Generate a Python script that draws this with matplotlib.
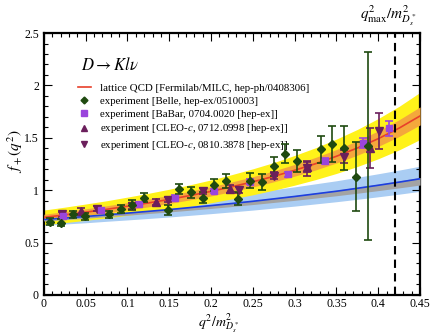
import matplotlib
matplotlib.use("Agg")
import matplotlib.pyplot as plt
from matplotlib.lines import Line2D
from matplotlib.ticker import MultipleLocator

plt.rcParams['font.family'] = ['Liberation Serif', 'DejaVu Serif']
plt.rcParams['mathtext.fontset'] = 'stix'

# lattice QCD curves
band_x = [0, 0.025, 0.05, 0.075, 0.1, 0.125, 0.15, 0.175, 0.2, 0.225,
          0.25, 0.275, 0.3, 0.325, 0.35, 0.375, 0.4, 0.425, 0.45]
lat_c = [0.740, 0.764, 0.790, 0.817, 0.847, 0.878, 0.912, 0.949, 0.989, 1.033,
         1.080, 1.132, 1.190, 1.253, 1.324, 1.403, 1.492, 1.593, 1.709]
lat_yel = [0.070, 0.074, 0.078, 0.082, 0.087, 0.092, 0.097, 0.103, 0.109, 0.116,
           0.124, 0.132, 0.142, 0.152, 0.164, 0.177, 0.192, 0.208, 0.225]
lat_org = [0.030, 0.031, 0.032, 0.034, 0.035, 0.037, 0.039, 0.041, 0.044, 0.046,
           0.049, 0.052, 0.056, 0.060, 0.064, 0.069, 0.074, 0.080, 0.086]
blue_c = [0.720, 0.734, 0.749, 0.765, 0.781, 0.798, 0.815, 0.834, 0.853, 0.873,
          0.894, 0.917, 0.940, 0.965, 0.990, 1.018, 1.047, 1.077, 1.109]
blue_w = [0.055, 0.057, 0.060, 0.062, 0.065, 0.068, 0.071, 0.074, 0.077, 0.080,
          0.084, 0.088, 0.092, 0.096, 0.100, 0.105, 0.110, 0.115, 0.120]
grey_lo = [0.015, 0.016, 0.017, 0.018, 0.020, 0.021, 0.023, 0.025, 0.027, 0.029,
           0.031, 0.034, 0.037, 0.040, 0.043, 0.047, 0.051, 0.055, 0.060]
grey_hi = [0.005, 0.005, 0.005, 0.006, 0.006, 0.006, 0.007, 0.007, 0.008, 0.008,
           0.008, 0.009, 0.009, 0.010, 0.010, 0.011, 0.011, 0.012, 0.012]

# experiments
belle_x = [0.007, 0.021, 0.035, 0.049, 0.078, 0.092, 0.106, 0.120, 0.148, 0.162,
           0.176, 0.190, 0.204, 0.218, 0.232, 0.247, 0.261, 0.275, 0.289, 0.303,
           0.331, 0.345, 0.359, 0.373, 0.388]
belle_y = [0.70, 0.69, 0.77, 0.75, 0.77, 0.82, 0.86, 0.93, 0.81, 1.01,
           0.98, 0.93, 1.05, 1.09, 0.92, 1.09, 1.08, 1.23, 1.35, 1.28,
           1.39, 1.44, 1.40, 1.13, 1.42]
belle_e = [0.035, 0.035, 0.035, 0.035, 0.035, 0.04, 0.045, 0.045, 0.045, 0.05,
           0.05, 0.05, 0.06, 0.065, 0.06, 0.07, 0.075, 0.09, 0.09, 0.105,
           0.13, 0.17, 0.21, 0.33, 0.90]

babar_x = [0.023, 0.068, 0.114, 0.157, 0.203, 0.247, 0.292, 0.336, 0.382, 0.413]
babar_y = [0.75, 0.81, 0.87, 0.93, 0.99, 1.08, 1.15, 1.28, 1.45, 1.59]
babar_e = [0.02, 0.02, 0.02, 0.02, 0.02, 0.025, 0.025, 0.03, 0.045, 0.07]

cleo1_x = [0.045, 0.134, 0.223, 0.315, 0.390]
cleo1_y = [0.80, 0.89, 1.01, 1.22, 1.40]
cleo1_e = [0.03, 0.03, 0.035, 0.05, 0.19]

cleo2_x = [0.022, 0.064, 0.106, 0.148, 0.190, 0.233, 0.275, 0.315, 0.359, 0.401]
cleo2_y = [0.77, 0.825, 0.85, 0.91, 0.99, 1.005, 1.14, 1.21, 1.32, 1.565]
cleo2_e = [0.025, 0.025, 0.025, 0.025, 0.03, 0.03, 0.035, 0.07, 0.065, 0.17]

qmax = 0.4205

fig = plt.figure(figsize=(4.3, 3.34), dpi=100)
ax = fig.add_axes([0.102, 0.117, 0.875, 0.784])

lo = [c - w for c, w in zip(blue_c, blue_w)]
hi = [c + w for c, w in zip(blue_c, blue_w)]
ax.fill_between(band_x, lo, hi, color='#aacdf3', lw=0, zorder=1)
lo = [c - w for c, w in zip(lat_c, lat_yel)]
hi = [c + w for c, w in zip(lat_c, lat_yel)]
ax.fill_between(band_x, lo, hi, color='#fff21a', lw=0, zorder=2)
lo = [c - w for c, w in zip(lat_c, lat_org)]
hi = [c + w for c, w in zip(lat_c, lat_org)]
ax.fill_between(band_x, lo, hi, color='#f4a83c', lw=0, zorder=3)
lo = [c - w for c, w in zip(blue_c, grey_lo)]
hi = [c + w for c, w in zip(blue_c, grey_hi)]
ax.fill_between(band_x, lo, hi, color='#a3a3a3', lw=0, zorder=3)
ax.plot(band_x, blue_c, color='#1c3fe0', lw=1.2, zorder=4)
ax.plot(band_x, lat_c, color='#e8402a', lw=1.2, zorder=4)

ax.axvline(qmax, color='black', ls=(0, (4, 2.5)), lw=1.5, zorder=5)

green = '#1f4a10'
purple = '#9a45dc'
plum = '#6b1f5c'
eb = dict(ls='none', capsize=3.2, capthick=1.2, elinewidth=1.2, zorder=6)
ax.errorbar(cleo2_x, cleo2_y, yerr=cleo2_e, fmt='v', color=plum, ms=5.5, **eb)
ax.errorbar(cleo1_x, cleo1_y, yerr=cleo1_e, fmt='^', color=plum, ms=5.5, **eb)
ax.errorbar(babar_x, babar_y, yerr=babar_e, fmt='s', color=purple, ms=5, **eb)
ax.errorbar(belle_x, belle_y, yerr=belle_e, fmt='D', color=green, ms=3.8, **eb)

ax.set_xlim(0, 0.45)
ax.set_ylim(0, 2.5)
ax.xaxis.set_minor_locator(MultipleLocator(0.01))
ax.yaxis.set_minor_locator(MultipleLocator(0.1))
ax.set_xticks([0, 0.05, 0.1, 0.15, 0.2, 0.25, 0.3, 0.35, 0.4, 0.45])
ax.set_xticklabels(['0', '0.05', '0.1', '0.15', '0.2', '0.25', '0.3', '0.35', '0.4', '0.45'])
ax.set_yticks([0, 0.5, 1, 1.5, 2, 2.5])
ax.set_yticklabels(['0', '0.5', '1', '1.5', '2', '2.5'])
ax.tick_params(which='both', direction='in', top=True, right=True, labelsize=8.5, width=0.8)
ax.tick_params(axis='x', pad=2)
ax.tick_params(which='major', length=6)
ax.tick_params(which='minor', length=3)
for s in ax.spines.values():
    s.set_linewidth(1.6)

ax.set_xlabel(r'$q^2/m^2_{D_s^*}$', fontsize=10)
ax.xaxis.set_label_coords(0.463, -0.062)
ax.set_ylabel(r'$f_+(q^2)$', fontsize=11)
ax.yaxis.set_label_coords(-0.05, 0.55)
ax.text(0.915, 1.02, r'$q^2_{\rm max}/m^2_{D_s^*}$', transform=ax.transAxes,
        ha='center', va='bottom', fontsize=11)

ax.text(0.10, 0.878, r'$D \rightarrow K l \nu$', transform=ax.transAxes,
        ha='left', va='center', fontsize=12)

handles = [
    Line2D([], [], color='#e8402a', lw=1.2),
    Line2D([], [], ls='none', marker='D', color=green, ms=3.5),
    Line2D([], [], ls='none', marker='s', color=purple, ms=5),
    Line2D([], [], ls='none', marker='^', color=plum, ms=5),
    Line2D([], [], ls='none', marker='v', color=plum, ms=5),
]
labels = [
    'lattice QCD [Fermilab/MILC, hep-ph/0408306]',
    'experiment [Belle, hep-ex/0510003]',
    'experiment [BaBar, 0704.0020 [hep-ex]]',
    'experiment [CLEO-$c$, 0712.0998 [hep-ex]]',
    'experiment [CLEO-$c$, 0810.3878 [hep-ex]]',
]
ax.legend(handles, labels, loc='upper left', bbox_to_anchor=(0.09, 0.808),
          frameon=False, fontsize=7.8, handlelength=1.2, handletextpad=0.9,
          labelspacing=0.32, borderpad=0, borderaxespad=0)

fig.savefig('out.png', dpi=100)
